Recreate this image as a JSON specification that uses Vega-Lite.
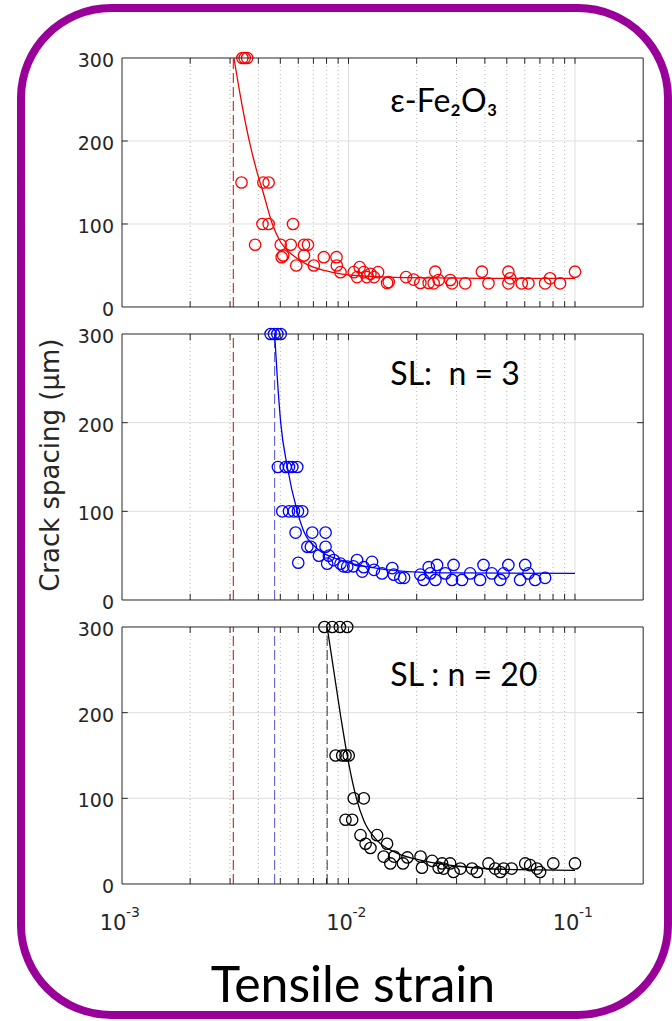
{
"$schema":"https://vega.github.io/schema/vega-lite/v6.json",
"width":647,"height":1007,
"autosize":{"type":"none"},
"padding":{"left":21,"top":8,"right":4,"bottom":6},
"background":"white",
"config":{"view":{"stroke":"#990099","strokeWidth":8,"cornerRadius":90},"text":{"font":"DejaVu Sans"}},
"datasets":{
"grid":[{"x":0.002,"major":false},{"x":0.003,"major":false},{"x":0.004,"major":false},{"x":0.005,"major":false},{"x":0.006,"major":false},{"x":0.007,"major":false},{"x":0.008,"major":false},{"x":0.009,"major":false},{"x":0.01,"major":true},{"x":0.02,"major":false},{"x":0.03,"major":false},{"x":0.04,"major":false},{"x":0.05,"major":false},{"x":0.06,"major":false},{"x":0.07,"major":false},{"x":0.08,"major":false},{"x":0.09,"major":false},{"x":0.1,"major":true}],
"hg":[{"v":100},{"v":200}],
"yt":[{"t":"300","v":300},{"t":"200","v":200},{"t":"100","v":100},{"t":"0","v":0}],
"one":[{}],
"xt":[{"x":0.001,"e":"-3"},{"x":0.01,"e":"-2"},{"x":0.1,"e":"-1"}],
"lab":[{"p":"a","t":"ε-Fe₂O₃"},{"p":"b","t":"SL:\u00a0\u00a0n = 3"},{"p":"c","t":"SL : n = 20"},{"p":"x","t":"Tensile strain"},{"p":"y","t":"Crack spacing (μm)"}],
"vl":[{"p":"a","x":0.0031,"c":"#d40000"},{"p":"b","x":0.0031,"c":"#d40000"},{"p":"b","x":0.00472,"c":"#5050d0"},{"p":"c","x":0.0031,"c":"#d40000"},{"p":"c","x":0.00472,"c":"#5050d0"},{"p":"c","x":0.00805,"c":"#333333"}],
"fit":[
{"p":"a","x":0.00312,"y":300},{"p":"a","x":0.0034,"y":241},{"p":"a","x":0.00364,"y":201},{"p":"a","x":0.00396,"y":161},{"p":"a","x":0.0042,"y":138},{"p":"a","x":0.00461,"y":100},{"p":"a","x":0.00502,"y":78},{"p":"a","x":0.0057,"y":62},{"p":"a","x":0.00658,"y":51},{"p":"a","x":0.0078,"y":44},{"p":"a","x":0.00922,"y":40},{"p":"a","x":0.0115,"y":37.5},{"p":"a","x":0.0148,"y":36},{"p":"a","x":0.025,"y":35},{"p":"a","x":0.05,"y":34.5},{"p":"a","x":0.1,"y":34.5},
{"p":"b","x":0.00472,"y":300},{"p":"b","x":0.00485,"y":250},{"p":"b","x":0.00502,"y":200},{"p":"b","x":0.00537,"y":150},{"p":"b","x":0.00594,"y":100},{"p":"b","x":0.00636,"y":77},{"p":"b","x":0.00727,"y":58},{"p":"b","x":0.00922,"y":45},{"p":"b","x":0.01204,"y":37.6},{"p":"b","x":0.01813,"y":32},{"p":"b","x":0.03,"y":30.5},{"p":"b","x":0.1,"y":30},
{"p":"c","x":0.00805,"y":300},{"p":"c","x":0.00922,"y":197},{"p":"c","x":0.00987,"y":150},{"p":"c","x":0.01084,"y":100},{"p":"c","x":0.01168,"y":74},{"p":"c","x":0.01337,"y":51},{"p":"c","x":0.01637,"y":36},{"p":"c","x":0.02146,"y":27},{"p":"c","x":0.03,"y":21},{"p":"c","x":0.05,"y":17},{"p":"c","x":0.1,"y":16}],
"pts":[
{"p":"a","x":0.0034,"y":300},{"p":"a","x":0.00348,"y":300},{"p":"a","x":0.00357,"y":300},
{"p":"a","x":0.00337,"y":150},{"p":"a","x":0.00421,"y":150},{"p":"a","x":0.00444,"y":150},
{"p":"a","x":0.00417,"y":100},{"p":"a","x":0.00444,"y":100},{"p":"a","x":0.00569,"y":100},
{"p":"a","x":0.00387,"y":75},{"p":"a","x":0.00502,"y":75},{"p":"a","x":0.00556,"y":75},{"p":"a","x":0.00636,"y":75},{"p":"a","x":0.00662,"y":75},
{"p":"a","x":0.00507,"y":60},{"p":"a","x":0.00515,"y":62},{"p":"a","x":0.00636,"y":62},{"p":"a","x":0.00778,"y":60},{"p":"a","x":0.00885,"y":60},
{"p":"a","x":0.00588,"y":50},{"p":"a","x":0.00703,"y":50},{"p":"a","x":0.00888,"y":50},{"p":"a","x":0.0112,"y":48},
{"p":"a","x":0.00922,"y":42},{"p":"a","x":0.01055,"y":42},{"p":"a","x":0.01168,"y":42},{"p":"a","x":0.0125,"y":40},{"p":"a","x":0.01351,"y":42},
{"p":"a","x":0.01091,"y":36},{"p":"a","x":0.01204,"y":36},{"p":"a","x":0.01296,"y":36},
{"p":"a","x":0.0148,"y":29},{"p":"a","x":0.01505,"y":30},
{"p":"a","x":0.01795,"y":36},{"p":"a","x":0.01938,"y":33},{"p":"a","x":0.02076,"y":29},{"p":"a","x":0.02259,"y":29},
{"p":"a","x":0.02377,"y":28.5},{"p":"a","x":0.02416,"y":42.5},{"p":"a","x":0.025,"y":32.5},{"p":"a","x":0.02813,"y":32.5},{"p":"a","x":0.02864,"y":28.5},{"p":"a","x":0.03276,"y":28.5},{"p":"a","x":0.03882,"y":42.5},{"p":"a","x":0.0415,"y":28.5},{"p":"a","x":0.0508,"y":42.5},{"p":"a","x":0.0508,"y":28.5},{"p":"a","x":0.05176,"y":34.5},{"p":"a","x":0.0582,"y":28.5},{"p":"a","x":0.0623,"y":28.5},{"p":"a","x":0.0738,"y":28.5},{"p":"a","x":0.0776,"y":34.5},{"p":"a","x":0.0859,"y":28.5},{"p":"a","x":0.1,"y":42.5},
{"p":"b","x":0.00453,"y":300},{"p":"b","x":0.00469,"y":300},{"p":"b","x":0.00485,"y":300},{"p":"b","x":0.00502,"y":300},
{"p":"b","x":0.00488,"y":150},{"p":"b","x":0.00528,"y":150},{"p":"b","x":0.00546,"y":150},{"p":"b","x":0.00565,"y":150},{"p":"b","x":0.00594,"y":150},
{"p":"b","x":0.0051,"y":100},{"p":"b","x":0.00546,"y":100},{"p":"b","x":0.00574,"y":100},{"p":"b","x":0.00598,"y":100},{"p":"b","x":0.00625,"y":100},
{"p":"b","x":0.00584,"y":76},{"p":"b","x":0.00692,"y":76},{"p":"b","x":0.00792,"y":76},
{"p":"b","x":0.006,"y":42},
{"p":"b","x":0.00658,"y":60},{"p":"b","x":0.00682,"y":60},{"p":"b","x":0.00792,"y":60},
{"p":"b","x":0.0074,"y":50},{"p":"b","x":0.00819,"y":50},
{"p":"b","x":0.00805,"y":41},{"p":"b","x":0.00922,"y":41},{"p":"b","x":0.0086,"y":45},{"p":"b","x":0.0095,"y":38},{"p":"b","x":0.0105,"y":38},{"p":"b","x":0.0115,"y":32},
{"p":"b","x":0.00987,"y":37.6},{"p":"b","x":0.01091,"y":45},{"p":"b","x":0.01168,"y":37},{"p":"b","x":0.0127,"y":43},{"p":"b","x":0.01296,"y":34},{"p":"b","x":0.01406,"y":30},{"p":"b","x":0.0156,"y":36},{"p":"b","x":0.01585,"y":28.6},{"p":"b","x":0.01694,"y":25},{"p":"b","x":0.0176,"y":25},{"p":"b","x":0.02076,"y":28.6},{"p":"b","x":0.0226,"y":37},
{"p":"b","x":0.02146,"y":22.6},{"p":"b","x":0.02297,"y":30},{"p":"b","x":0.0246,"y":39.5},{"p":"b","x":0.0242,"y":22.6},{"p":"b","x":0.02675,"y":30},{"p":"b","x":0.0291,"y":39.5},{"p":"b","x":0.02864,"y":22.6},{"p":"b","x":0.0317,"y":22.6},{"p":"b","x":0.03444,"y":30},{"p":"b","x":0.03811,"y":22.6},{"p":"b","x":0.03945,"y":39.5},{"p":"b","x":0.04295,"y":30},{"p":"b","x":0.04677,"y":22.6},{"p":"b","x":0.0508,"y":39.5},{"p":"b","x":0.0484,"y":30},{"p":"b","x":0.05726,"y":22.6},{"p":"b","x":0.06027,"y":39.5},{"p":"b","x":0.0623,"y":30},{"p":"b","x":0.06668,"y":22.6},{"p":"b","x":0.0738,"y":25},
{"p":"c","x":0.00783,"y":300},{"p":"c","x":0.00848,"y":300},{"p":"c","x":0.00916,"y":300},{"p":"c","x":0.00987,"y":300},
{"p":"c","x":0.00877,"y":150},{"p":"c","x":0.00938,"y":150},{"p":"c","x":0.0097,"y":150},{"p":"c","x":0.01002,"y":150},
{"p":"c","x":0.01055,"y":100},{"p":"c","x":0.01168,"y":100},
{"p":"c","x":0.0097,"y":75},{"p":"c","x":0.01038,"y":75},
{"p":"c","x":0.0113,"y":57},{"p":"c","x":0.01337,"y":57},{"p":"c","x":0.0119,"y":47},{"p":"c","x":0.0148,"y":47},{"p":"c","x":0.0125,"y":42},{"p":"c","x":0.0143,"y":32},{"p":"c","x":0.0153,"y":24},{"p":"c","x":0.0159,"y":32},{"p":"c","x":0.0174,"y":24},{"p":"c","x":0.0182,"y":31},{"p":"c","x":0.0208,"y":32},{"p":"c","x":0.0211,"y":19},{"p":"c","x":0.0234,"y":27},{"p":"c","x":0.025,"y":19},{"p":"c","x":0.0259,"y":24},
{"p":"c","x":0.0263,"y":18},{"p":"c","x":0.0281,"y":24},{"p":"c","x":0.0291,"y":14},{"p":"c","x":0.0312,"y":18},{"p":"c","x":0.0351,"y":18},{"p":"c","x":0.0369,"y":14},{"p":"c","x":0.0415,"y":24},{"p":"c","x":0.0444,"y":18},{"p":"c","x":0.0468,"y":14},{"p":"c","x":0.0484,"y":18},{"p":"c","x":0.0525,"y":18},{"p":"c","x":0.0603,"y":24},{"p":"c","x":0.0634,"y":22},{"p":"c","x":0.0679,"y":18},{"p":"c","x":0.0701,"y":14},{"p":"c","x":0.0802,"y":24},{"p":"c","x":0.1,"y":24}]
},
"layer":[
{
"layer":[
{"data":{"name":"grid"},"transform":[{"filter":"!datum.major"}],"mark":{"type":"rule","stroke":"#b4b4b4","strokeDash":[1,3],"strokeWidth":1},"encoding":{"x":{"field":"x","type":"quantitative","scale":{"type":"log","domain":[0.00035814,0.25742],"nice":false},"axis":null},"y":{"datum":0,"type":"quantitative","scale":{"domain":[-853.01,360.24],"nice":false,"zero":false},"axis":null},"y2":{"datum":300}}},
{"data":{"name":"grid"},"transform":[{"filter":"datum.major"}],"mark":{"type":"rule","stroke":"#dedede","strokeWidth":1},"encoding":{"x":{"field":"x","type":"quantitative","scale":{"type":"log","domain":[0.00035814,0.25742],"nice":false},"axis":null},"y":{"datum":0,"type":"quantitative","scale":{"domain":[-853.01,360.24],"nice":false,"zero":false},"axis":null},"y2":{"datum":300}}},
{"data":{"name":"hg"},"mark":{"type":"rule","stroke":"#dedede","strokeWidth":1},"encoding":{"x":{"datum":0.001,"type":"quantitative","scale":{"type":"log","domain":[0.00035814,0.25742],"nice":false},"axis":null},"x2":{"datum":0.2},"y":{"field":"v","type":"quantitative","scale":{"domain":[-853.01,360.24],"nice":false,"zero":false},"axis":null}}},
{"data":{"name":"vl"},"transform":[{"filter":"datum.p=='a'"}],"mark":{"type":"rule","strokeDash":[10,4],"strokeWidth":1},"encoding":{"x":{"field":"x","type":"quantitative","scale":{"type":"log","domain":[0.00035814,0.25742],"nice":false},"axis":null},"y":{"datum":0,"type":"quantitative","scale":{"domain":[-853.01,360.24],"nice":false,"zero":false},"axis":null},"y2":{"datum":300},"color":{"field":"c","type":"nominal","scale":null}}},
{"data":{"name":"fit"},"transform":[{"filter":"datum.p=='a'"}],"mark":{"type":"line","color":"#f00000","strokeWidth":1.3,"interpolate":"monotone"},"encoding":{"x":{"field":"x","type":"quantitative","scale":{"type":"log","domain":[0.00035814,0.25742],"nice":false},"axis":null},"y":{"field":"y","type":"quantitative","scale":{"domain":[-853.01,360.24],"nice":false,"zero":false},"axis":null}}},
{"data":{"name":"pts"},"transform":[{"filter":"datum.p=='a'"}],"mark":{"type":"point","shape":"circle","filled":false,"color":"#ff0000","size":130,"strokeWidth":1.3,"opacity":1},"encoding":{"x":{"field":"x","type":"quantitative","scale":{"type":"log","domain":[0.00035814,0.25742],"nice":false},"axis":null},"y":{"field":"y","type":"quantitative","scale":{"domain":[-853.01,360.24],"nice":false,"zero":false},"axis":null}}},
{"data":{"name":"one"},"mark":{"type":"rect","fill":"transparent","stroke":"#262626","strokeWidth":1},"encoding":{"x":{"datum":0.001,"type":"quantitative","scale":{"type":"log","domain":[0.00035814,0.25742],"nice":false},"axis":null},"x2":{"datum":0.2},"y":{"datum":0,"type":"quantitative","scale":{"domain":[-853.01,360.24],"nice":false,"zero":false},"axis":null},"y2":{"datum":300}}},
{"data":{"name":"grid"},"mark":{"type":"rule","stroke":"#262626"},"encoding":{"x":{"field":"x","type":"quantitative","scale":{"type":"log","domain":[0.00035814,0.25742],"nice":false},"axis":null},"y":{"datum":0,"type":"quantitative","scale":{"domain":[-853.01,360.24],"nice":false,"zero":false},"axis":null},"y2":{"datum":7}}},
{"data":{"name":"grid"},"mark":{"type":"rule","stroke":"#262626"},"encoding":{"x":{"field":"x","type":"quantitative","scale":{"type":"log","domain":[0.00035814,0.25742],"nice":false},"axis":null},"y":{"datum":293,"type":"quantitative","scale":{"domain":[-853.01,360.24],"nice":false,"zero":false},"axis":null},"y2":{"datum":300}}},
{"data":{"name":"hg"},"mark":{"type":"rule","stroke":"#262626"},"encoding":{"x":{"datum":0.001,"type":"quantitative","scale":{"type":"log","domain":[0.00035814,0.25742],"nice":false},"axis":null},"x2":{"datum":0.00106},"y":{"field":"v","type":"quantitative","scale":{"domain":[-853.01,360.24],"nice":false,"zero":false},"axis":null}}},
{"data":{"name":"hg"},"mark":{"type":"rule","stroke":"#262626"},"encoding":{"x":{"datum":0.188,"type":"quantitative","scale":{"type":"log","domain":[0.00035814,0.25742],"nice":false},"axis":null},"x2":{"datum":0.2},"y":{"field":"v","type":"quantitative","scale":{"domain":[-853.01,360.24],"nice":false,"zero":false},"axis":null}}},
{"data":{"name":"yt"},"mark":{"type":"text","align":"right","baseline":"middle","dx":-8,"dy":3,"fontSize":19,"color":"#262626"},"encoding":{"x":{"datum":0.001,"type":"quantitative","scale":{"type":"log","domain":[0.00035814,0.25742],"nice":false},"axis":null},"y":{"field":"v","type":"quantitative","scale":{"domain":[-853.01,360.24],"nice":false,"zero":false},"axis":null},"text":{"field":"t"}}},
{"data":{"name":"lab"},"transform":[{"filter":"datum.p=='a'"}],"mark":{"type":"text","align":"left","baseline":"alphabetic","font":"Lato","fontSize":32,"color":"#000000"},"encoding":{"x":{"datum":0.0153,"type":"quantitative","scale":{"type":"log","domain":[0.00035814,0.25742],"nice":false},"axis":null},"y":{"datum":235,"type":"quantitative","scale":{"domain":[-853.01,360.24],"nice":false,"zero":false},"axis":null},"text":{"field":"t"}}}
]},
{
"layer":[
{"data":{"name":"grid"},"transform":[{"filter":"!datum.major"}],"mark":{"type":"rule","stroke":"#b4b4b4","strokeDash":[1,3],"strokeWidth":1},"encoding":{"x":{"field":"x","type":"quantitative","scale":{"type":"log","domain":[0.00035814,0.25742],"nice":false},"axis":null},"y":{"datum":0,"type":"quantitative","scale":{"domain":[-468.05,667.67],"nice":false,"zero":false},"axis":null},"y2":{"datum":300}}},
{"data":{"name":"grid"},"transform":[{"filter":"datum.major"}],"mark":{"type":"rule","stroke":"#dedede","strokeWidth":1},"encoding":{"x":{"field":"x","type":"quantitative","scale":{"type":"log","domain":[0.00035814,0.25742],"nice":false},"axis":null},"y":{"datum":0,"type":"quantitative","scale":{"domain":[-468.05,667.67],"nice":false,"zero":false},"axis":null},"y2":{"datum":300}}},
{"data":{"name":"hg"},"mark":{"type":"rule","stroke":"#dedede","strokeWidth":1},"encoding":{"x":{"datum":0.001,"type":"quantitative","scale":{"type":"log","domain":[0.00035814,0.25742],"nice":false},"axis":null},"x2":{"datum":0.2},"y":{"field":"v","type":"quantitative","scale":{"domain":[-468.05,667.67],"nice":false,"zero":false},"axis":null}}},
{"data":{"name":"vl"},"transform":[{"filter":"datum.p=='b'"}],"mark":{"type":"rule","strokeDash":[10,4],"strokeWidth":1},"encoding":{"x":{"field":"x","type":"quantitative","scale":{"type":"log","domain":[0.00035814,0.25742],"nice":false},"axis":null},"y":{"datum":0,"type":"quantitative","scale":{"domain":[-468.05,667.67],"nice":false,"zero":false},"axis":null},"y2":{"datum":300},"color":{"field":"c","type":"nominal","scale":null}}},
{"data":{"name":"fit"},"transform":[{"filter":"datum.p=='b'"}],"mark":{"type":"line","color":"#0000f0","strokeWidth":1.3,"interpolate":"monotone"},"encoding":{"x":{"field":"x","type":"quantitative","scale":{"type":"log","domain":[0.00035814,0.25742],"nice":false},"axis":null},"y":{"field":"y","type":"quantitative","scale":{"domain":[-468.05,667.67],"nice":false,"zero":false},"axis":null}}},
{"data":{"name":"pts"},"transform":[{"filter":"datum.p=='b'"}],"mark":{"type":"point","shape":"circle","filled":false,"color":"#0000ff","size":130,"strokeWidth":1.3,"opacity":1},"encoding":{"x":{"field":"x","type":"quantitative","scale":{"type":"log","domain":[0.00035814,0.25742],"nice":false},"axis":null},"y":{"field":"y","type":"quantitative","scale":{"domain":[-468.05,667.67],"nice":false,"zero":false},"axis":null}}},
{"data":{"name":"one"},"mark":{"type":"rect","fill":"transparent","stroke":"#262626","strokeWidth":1},"encoding":{"x":{"datum":0.001,"type":"quantitative","scale":{"type":"log","domain":[0.00035814,0.25742],"nice":false},"axis":null},"x2":{"datum":0.2},"y":{"datum":0,"type":"quantitative","scale":{"domain":[-468.05,667.67],"nice":false,"zero":false},"axis":null},"y2":{"datum":300}}},
{"data":{"name":"grid"},"mark":{"type":"rule","stroke":"#262626"},"encoding":{"x":{"field":"x","type":"quantitative","scale":{"type":"log","domain":[0.00035814,0.25742],"nice":false},"axis":null},"y":{"datum":0,"type":"quantitative","scale":{"domain":[-468.05,667.67],"nice":false,"zero":false},"axis":null},"y2":{"datum":7}}},
{"data":{"name":"grid"},"mark":{"type":"rule","stroke":"#262626"},"encoding":{"x":{"field":"x","type":"quantitative","scale":{"type":"log","domain":[0.00035814,0.25742],"nice":false},"axis":null},"y":{"datum":293,"type":"quantitative","scale":{"domain":[-468.05,667.67],"nice":false,"zero":false},"axis":null},"y2":{"datum":300}}},
{"data":{"name":"hg"},"mark":{"type":"rule","stroke":"#262626"},"encoding":{"x":{"datum":0.001,"type":"quantitative","scale":{"type":"log","domain":[0.00035814,0.25742],"nice":false},"axis":null},"x2":{"datum":0.00106},"y":{"field":"v","type":"quantitative","scale":{"domain":[-468.05,667.67],"nice":false,"zero":false},"axis":null}}},
{"data":{"name":"hg"},"mark":{"type":"rule","stroke":"#262626"},"encoding":{"x":{"datum":0.188,"type":"quantitative","scale":{"type":"log","domain":[0.00035814,0.25742],"nice":false},"axis":null},"x2":{"datum":0.2},"y":{"field":"v","type":"quantitative","scale":{"domain":[-468.05,667.67],"nice":false,"zero":false},"axis":null}}},
{"data":{"name":"yt"},"mark":{"type":"text","align":"right","baseline":"middle","dx":-8,"dy":3,"fontSize":19,"color":"#262626"},"encoding":{"x":{"datum":0.001,"type":"quantitative","scale":{"type":"log","domain":[0.00035814,0.25742],"nice":false},"axis":null},"y":{"field":"v","type":"quantitative","scale":{"domain":[-468.05,667.67],"nice":false,"zero":false},"axis":null},"text":{"field":"t"}}},
{"data":{"name":"lab"},"transform":[{"filter":"datum.p=='b'"}],"mark":{"type":"text","align":"left","baseline":"alphabetic","font":"Lato","fontSize":32,"color":"#000000"},"encoding":{"x":{"datum":0.0153,"type":"quantitative","scale":{"type":"log","domain":[0.00035814,0.25742],"nice":false},"axis":null},"y":{"datum":242,"type":"quantitative","scale":{"domain":[-468.05,667.67],"nice":false,"zero":false},"axis":null},"text":{"field":"t"}}},
{"data":{"name":"lab"},"transform":[{"filter":"datum.p=='y'"}],"mark":{"type":"text","align":"center","baseline":"middle","angle":270,"fontSize":26,"color":"#262626"},"encoding":{"x":{"datum":0.000488,"type":"quantitative","scale":{"type":"log","domain":[0.00035814,0.25742],"nice":false},"axis":null},"y":{"datum":152,"type":"quantitative","scale":{"domain":[-468.05,667.67],"nice":false,"zero":false},"axis":null},"text":{"field":"t"}}}
]},
{
"layer":[
{"data":{"name":"grid"},"transform":[{"filter":"!datum.major"}],"mark":{"type":"rule","stroke":"#b4b4b4","strokeDash":[1,3],"strokeWidth":1},"encoding":{"x":{"field":"x","type":"quantitative","scale":{"type":"log","domain":[0.00035814,0.25742],"nice":false},"axis":null},"y":{"datum":0,"type":"quantitative","scale":{"domain":[-152.92,1022.57],"nice":false,"zero":false},"axis":null},"y2":{"datum":300}}},
{"data":{"name":"grid"},"transform":[{"filter":"datum.major"}],"mark":{"type":"rule","stroke":"#dedede","strokeWidth":1},"encoding":{"x":{"field":"x","type":"quantitative","scale":{"type":"log","domain":[0.00035814,0.25742],"nice":false},"axis":null},"y":{"datum":0,"type":"quantitative","scale":{"domain":[-152.92,1022.57],"nice":false,"zero":false},"axis":null},"y2":{"datum":300}}},
{"data":{"name":"hg"},"mark":{"type":"rule","stroke":"#dedede","strokeWidth":1},"encoding":{"x":{"datum":0.001,"type":"quantitative","scale":{"type":"log","domain":[0.00035814,0.25742],"nice":false},"axis":null},"x2":{"datum":0.2},"y":{"field":"v","type":"quantitative","scale":{"domain":[-152.92,1022.57],"nice":false,"zero":false},"axis":null}}},
{"data":{"name":"vl"},"transform":[{"filter":"datum.p=='c'"}],"mark":{"type":"rule","strokeDash":[10,4],"strokeWidth":1},"encoding":{"x":{"field":"x","type":"quantitative","scale":{"type":"log","domain":[0.00035814,0.25742],"nice":false},"axis":null},"y":{"datum":0,"type":"quantitative","scale":{"domain":[-152.92,1022.57],"nice":false,"zero":false},"axis":null},"y2":{"datum":300},"color":{"field":"c","type":"nominal","scale":null}}},
{"data":{"name":"fit"},"transform":[{"filter":"datum.p=='c'"}],"mark":{"type":"line","color":"#000000","strokeWidth":1.3,"interpolate":"monotone"},"encoding":{"x":{"field":"x","type":"quantitative","scale":{"type":"log","domain":[0.00035814,0.25742],"nice":false},"axis":null},"y":{"field":"y","type":"quantitative","scale":{"domain":[-152.92,1022.57],"nice":false,"zero":false},"axis":null}}},
{"data":{"name":"pts"},"transform":[{"filter":"datum.p=='c'"}],"mark":{"type":"point","shape":"circle","filled":false,"color":"#000000","size":130,"strokeWidth":1.3,"opacity":1},"encoding":{"x":{"field":"x","type":"quantitative","scale":{"type":"log","domain":[0.00035814,0.25742],"nice":false},"axis":null},"y":{"field":"y","type":"quantitative","scale":{"domain":[-152.92,1022.57],"nice":false,"zero":false},"axis":null}}},
{"data":{"name":"one"},"mark":{"type":"rect","fill":"transparent","stroke":"#262626","strokeWidth":1},"encoding":{"x":{"datum":0.001,"type":"quantitative","scale":{"type":"log","domain":[0.00035814,0.25742],"nice":false},"axis":null},"x2":{"datum":0.2},"y":{"datum":0,"type":"quantitative","scale":{"domain":[-152.92,1022.57],"nice":false,"zero":false},"axis":null},"y2":{"datum":300}}},
{"data":{"name":"grid"},"mark":{"type":"rule","stroke":"#262626"},"encoding":{"x":{"field":"x","type":"quantitative","scale":{"type":"log","domain":[0.00035814,0.25742],"nice":false},"axis":null},"y":{"datum":0,"type":"quantitative","scale":{"domain":[-152.92,1022.57],"nice":false,"zero":false},"axis":null},"y2":{"datum":7}}},
{"data":{"name":"grid"},"mark":{"type":"rule","stroke":"#262626"},"encoding":{"x":{"field":"x","type":"quantitative","scale":{"type":"log","domain":[0.00035814,0.25742],"nice":false},"axis":null},"y":{"datum":293,"type":"quantitative","scale":{"domain":[-152.92,1022.57],"nice":false,"zero":false},"axis":null},"y2":{"datum":300}}},
{"data":{"name":"hg"},"mark":{"type":"rule","stroke":"#262626"},"encoding":{"x":{"datum":0.001,"type":"quantitative","scale":{"type":"log","domain":[0.00035814,0.25742],"nice":false},"axis":null},"x2":{"datum":0.00106},"y":{"field":"v","type":"quantitative","scale":{"domain":[-152.92,1022.57],"nice":false,"zero":false},"axis":null}}},
{"data":{"name":"hg"},"mark":{"type":"rule","stroke":"#262626"},"encoding":{"x":{"datum":0.188,"type":"quantitative","scale":{"type":"log","domain":[0.00035814,0.25742],"nice":false},"axis":null},"x2":{"datum":0.2},"y":{"field":"v","type":"quantitative","scale":{"domain":[-152.92,1022.57],"nice":false,"zero":false},"axis":null}}},
{"data":{"name":"yt"},"mark":{"type":"text","align":"right","baseline":"middle","dx":-8,"dy":3,"fontSize":19,"color":"#262626"},"encoding":{"x":{"datum":0.001,"type":"quantitative","scale":{"type":"log","domain":[0.00035814,0.25742],"nice":false},"axis":null},"y":{"field":"v","type":"quantitative","scale":{"domain":[-152.92,1022.57],"nice":false,"zero":false},"axis":null},"text":{"field":"t"}}},
{"data":{"name":"lab"},"transform":[{"filter":"datum.p=='c'"}],"mark":{"type":"text","align":"left","baseline":"alphabetic","font":"Lato","fontSize":32,"color":"#000000"},"encoding":{"x":{"datum":0.0153,"type":"quantitative","scale":{"type":"log","domain":[0.00035814,0.25742],"nice":false},"axis":null},"y":{"datum":231,"type":"quantitative","scale":{"domain":[-152.92,1022.57],"nice":false,"zero":false},"axis":null},"text":{"field":"t"}}},
{"data":{"name":"xt"},"mark":{"type":"text","align":"center","baseline":"alphabetic","dx":-9,"fontSize":21,"color":"#262626"},"encoding":{"x":{"field":"x","type":"quantitative","scale":{"type":"log","domain":[0.00035814,0.25742],"nice":false},"axis":null},"y":{"datum":-54,"type":"quantitative","scale":{"domain":[-152.92,1022.57],"nice":false,"zero":false},"axis":null},"text":{"value":"10"}}},
{"data":{"name":"xt"},"mark":{"type":"text","align":"left","baseline":"alphabetic","dx":4,"fontSize":14,"color":"#262626"},"encoding":{"x":{"field":"x","type":"quantitative","scale":{"type":"log","domain":[0.00035814,0.25742],"nice":false},"axis":null},"y":{"datum":-38,"type":"quantitative","scale":{"domain":[-152.92,1022.57],"nice":false,"zero":false},"axis":null},"text":{"field":"e"}}},
{"data":{"name":"lab"},"transform":[{"filter":"datum.p=='x'"}],"mark":{"type":"text","align":"center","baseline":"alphabetic","font":"Lato","fontSize":50,"color":"#000000"},"encoding":{"x":{"datum":0.010468,"type":"quantitative","scale":{"type":"log","domain":[0.00035814,0.25742],"nice":false},"axis":null},"y":{"datum":-137.7,"type":"quantitative","scale":{"domain":[-152.92,1022.57],"nice":false,"zero":false},"axis":null},"text":{"field":"t"}}}
]}
],
"resolve":{"scale":{"y":"independent"}}
}
